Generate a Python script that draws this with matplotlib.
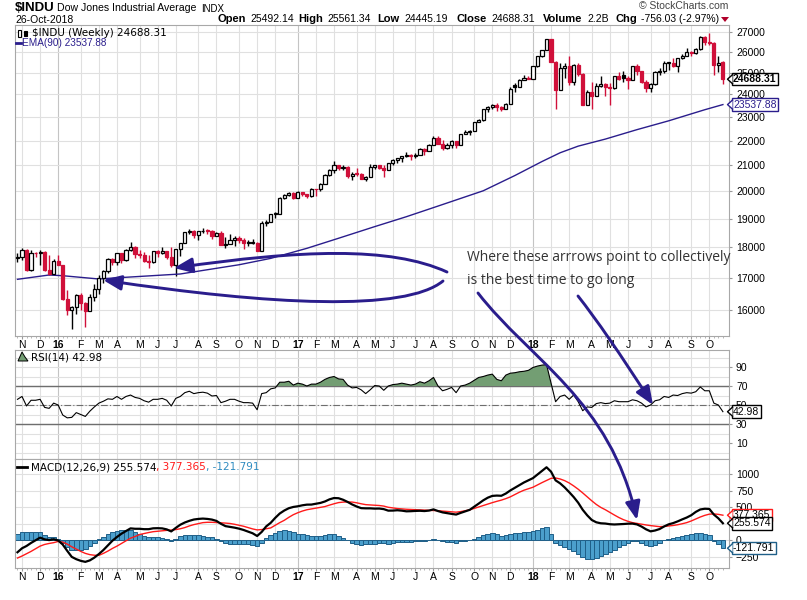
import numpy as np
import pandas as pd
import matplotlib
matplotlib.use("Agg")
import matplotlib.pyplot as plt
from matplotlib.patches import FancyArrowPatch, Rectangle, Polygon, ArrowStyle
from matplotlib.path import Path
from matplotlib.lines import Line2D
from matplotlib.ticker import NullLocator

plt.rcParams['font.family'] = ['Liberation Sans', 'DejaVu Sans']

# weekly candles, first bar = week ending 30-Oct-2015, last = 26-Oct-2018
opens = [17646, 17664, 17910, 17245, 17824, 17798, 17848, 17265, 17128, 17552,
         17405, 16347, 15988, 16094, 16466, 16205, 15974, 16392, 16640, 17007, 17213, 17602, 17516, 17793, 17577, 17897,
         18003, 17774, 17740, 17535, 17501, 17873, 17807, 17865, 17675, 17400, 17949, 18147, 18517, 18571, 18432, 18544,
         18577, 18553, 18395, 18492, 18085, 18124, 18262, 18308, 18240, 18138, 18146, 18161, 17888, 18848, 18868, 19153,
         19171, 19757, 19843, 19934,
         19763, 19964, 19886, 19827, 20094, 20071, 20269, 20624, 20822, 21006, 20903, 20915, 20597, 20663, 20656, 20453,
         20548, 20941, 21007, 20897, 20805, 21080, 21206, 21272, 21384, 21395, 21350, 21414, 21638, 21580, 21830, 22093,
         21858, 21675, 21814, 21988, 21798, 22268, 22350, 22405, 22773, 22871, 23329, 23434, 23539, 23422, 23358, 23558,
         24424, 24329, 24652, 24754,
         24719, 25296, 25803, 26072, 26617, 25521, 24191, 25219, 25310, 24538, 25336, 24946, 23533, 24103, 23933, 24360,
         24463, 24311, 24263, 24831, 24870, 24753, 24635, 25317, 25090, 24581, 24271, 24456, 25019, 25058, 25451, 25463,
         25313, 25669, 25790, 25965, 25917, 26154, 26744, 26458, 26447, 25340, 25492]
highs = [17799, 17977, 17930, 17914, 17850, 17895, 17860, 17750, 17620, 17750,
         17405, 16600, 16130, 16500, 16510, 16250, 16480, 16800, 17080, 17240, 17630, 17630, 17800, 17800, 17940, 18170,
         18040, 17900, 17850, 17750, 17890, 17900, 18000, 17870, 18010, 17960, 18150, 18540, 18620, 18600, 18550, 18670,
         18630, 18590, 18530, 18560, 18340, 18450, 18370, 18400, 18330, 18260, 18280, 18170, 18930, 18940, 19170, 19225,
         19770, 19900, 19990, 19980,
         19999, 19975, 19900, 20125, 20100, 20300, 20640, 20840, 21170, 21010, 21000, 20970, 20740, 20890, 20710, 20600,
         21070, 21010, 21010, 21010, 21110, 21230, 21300, 21390, 21530, 21450, 21490, 21680, 21680, 21840, 22180, 22170,
         22020, 21900, 22010, 21990, 22280, 22420, 22420, 22790, 22900, 23330, 23480, 23560, 23600, 23470, 23600, 24330,
         24535, 24690, 24880, 24840,
         25300, 25810, 26090, 26620, 26620, 25530, 25430, 25440, 25800, 25390, 25450, 25000, 24190, 24540, 24490, 24860,
         24500, 24500, 24860, 25010, 25090, 24840, 25330, 25400, 25090, 24630, 24500, 25070, 25200, 25540, 25520, 25690,
         25700, 25880, 26170, 26010, 26160, 26770, 26770, 26950, 26460, 25800, 25561]
lows = [17514, 17590, 17230, 17210, 17680, 17420, 17230, 17100, 17128, 17400,
        16314, 15840, 15450, 15880, 16000, 15503, 15974, 16260, 16500, 16820, 17160, 17420, 17400, 17480, 17550, 17890,
        17650, 17630, 17500, 17330, 17490, 17660, 17780, 17600, 17360, 17060, 17710, 18140, 18440, 18320, 18250, 18500,
        18460, 18300, 18390, 18080, 17990, 18100, 18030, 18140, 17960, 18060, 18100, 17880, 17880, 18740, 18860, 19020,
        19160, 19720, 19840, 19720,
        19750, 19830, 19730, 19780, 19830, 20000, 20260, 20600, 20700, 20800, 20800, 20500, 20410, 20580, 20450, 20380,
        20540, 20840, 20860, 20550, 20800, 21000, 21090, 21120, 21330, 21200, 21280, 21400, 21420, 21570, 21820, 21840,
        21600, 21640, 21700, 21710, 21800, 22260, 22230, 22400, 22760, 22830, 23230, 23330, 23250, 23240, 23350, 23550,
        24110, 24320, 24650, 24700,
        24700, 25240, 25740, 26060, 25500, 23360, 24190, 24760, 24400, 24400, 24860, 23510, 23510, 23340, 23900, 24350,
        23900, 23530, 24250, 24660, 24580, 24250, 24630, 24880, 24500, 24080, 24080, 24440, 24900, 24960, 25140, 25280,
        25030, 25650, 25780, 25780, 25900, 26060, 26350, 26350, 24900, 25040, 24445]
closes = [17664, 17910, 17245, 17824, 17798, 17848, 17265, 17128, 17552, 17425,
          16347, 15988, 16094, 16466, 16205, 15974, 16392, 16640, 17007, 17213, 17602, 17516, 17793, 17577, 17897, 18003,
          17774, 17740, 17535, 17501, 17873, 17807, 17865, 17675, 17400, 17949, 18147, 18517, 18571, 18432, 18544, 18577,
          18553, 18395, 18492, 18085, 18124, 18262, 18308, 18240, 18138, 18146, 18161, 17888, 18848, 18868, 19153, 19171,
          19757, 19843, 19934, 19763,
          19964, 19886, 19827, 20094, 20071, 20269, 20624, 20822, 21006, 20903, 20915, 20597, 20663, 20656, 20453, 20548,
          20941, 21007, 20897, 20805, 21080, 21206, 21272, 21384, 21395, 21350, 21414, 21638, 21580, 21830, 22093, 21858,
          21675, 21814, 21988, 21798, 22268, 22350, 22405, 22773, 22871, 23329, 23434, 23539, 23422, 23358, 23558, 24231,
          24329, 24652, 24754, 24719,
          25296, 25803, 26072, 26617, 25521, 24191, 25219, 25310, 24538, 25336, 24946, 23533, 24103, 23933, 24360, 24463,
          24311, 24263, 24831, 24715, 24753, 24635, 25317, 25090, 24581, 24271, 24456, 25019, 25058, 25451, 25463, 25313,
          25669, 25790, 25965, 25917, 26154, 26744, 26458, 26447, 25340, 25444, 24688]

# EMA(90) read at a few bars (bar index, value)
ema_idx = [0, 7, 10, 18, 20, 36, 49, 56, 64, 71, 79, 86, 93, 103, 110, 116, 120, 124, 130, 137, 144, 152, 156]
ema_val = [16950, 17088, 17065, 16960, 16980, 17120, 17420, 17630, 17966, 18309, 18714, 19066, 19451, 20018,
           20600, 21150, 21500, 21770, 22060, 22455, 22830, 23312, 23538]

rsi = [56, 59, 49, 55, 55, 56, 47.5, 46.5, 52, 50,
       39.5, 36.5, 37, 42, 40, 38, 43.5, 48, 52, 54,
       56.5, 56, 59, 56, 59, 60.5, 58, 57, 54.5, 53,
       56, 56, 57, 55, 49, 57, 59, 63, 64.5, 62,
       63, 63.5, 62.5, 59.5, 60, 52.5, 54, 56, 56, 54,
       52.5, 52.5, 52, 45, 62, 63, 67, 68, 74, 74,
       75, 71, 73, 72, 70, 72, 72, 74, 77, 79,
       80, 77.5, 77, 71, 68, 68.5, 66, 62, 66, 70.5,
       70, 65.5, 70, 71.5, 72, 73, 72, 71, 72, 74.5,
       73, 75.5, 79, 70, 65, 66.5, 68.5, 63, 70, 71,
       73, 76, 79, 80, 81.5, 82.5, 77, 75.5, 81.5, 83.5,
       84, 85, 85.5, 86.5, 89.5, 91, 92, 92.5, 73, 53.5,
       59, 60.5, 56, 60.5, 53.5, 44, 48, 47.5, 51.5, 52.5,
       51.5, 52, 54.5, 53.5, 53.5, 53.5, 55.5, 54.5, 52, 48,
       50, 54.5, 55.5, 59, 58, 60.5, 60, 62, 63, 62.5,
       64, 69, 65, 65, 52, 50, 42.98]

# MACD signal line and histogram, read weekly
signal = [-270, -240, -205, -170, -130, -90, -65, -50, -38, -20,
          -30, -60, -100, -135, -170, -200, -219, -228, -230, -200,
          -165, -125, -90, -50, -10, 30, 55, 85, 100, 115,
          128, 135, 142, 148, 152, 160, 172, 190, 215, 235,
          250, 265, 270, 270, 266, 262, 258, 252, 240, 225,
          210, 190, 170, 155, 160, 172, 185, 225, 265, 300,
          345, 385, 415, 440, 460, 472, 485, 497, 508, 530,
          550, 568, 575, 578, 576, 565, 550, 537, 532, 528,
          524, 515, 497, 488, 478, 472, 467, 464, 462, 459,
          455, 452, 450, 445, 440, 434, 428, 423, 432, 445,
          458, 480, 502, 525, 545, 567, 587, 605, 628, 655,
          690, 725, 755, 777, 800, 835, 870, 903, 935, 940,
          925, 900, 865, 820, 770, 714, 655, 595, 540, 495,
          460, 420, 380, 342, 310, 285, 265, 253, 242, 230,
          220, 212, 204, 207, 214, 222, 233, 248, 265, 290,
          320, 350, 375, 393, 397, 390, 377.365]
hist = [87, 117, 117, 128, 128, 128, 77, 51, 51, 15,
        -36, -102, -153, -153, -143, -128, -87, -36, 20, 51,
        87, 117, 138, 148, 148, 148, 117, 87, 66, 51,
        51, 46, 36, 15, -20, 25, 61, 77, 77, 77,
        71, 61, 51, 41, 25, -15, -46, -51, -51, -51,
        -56, -61, -66, -92, -36, 36, 77, 112, 138, 148,
        138, 117, 97, 87, 77, 66, 66, 66, 77, 87,
        87, 66, 36, 0, -36, -56, -66, -56, -51, -51,
        -46, -46, -51, -41, -26, -26, -31, -26, -20, -15,
        -15, -5, 15, -5, -20, -26, -31, -36, -20, -10,
        0, 25, 51, 77, 97, 102, 87, 66, 77, 97,
        102, 107, 117, 128, 138, 158, 179, 199, 100, -36,
        -66, -102, -138, -168, -204, -255, -280, -290, -270, -240,
        -209, -179, -143, -102, -66, -36, -15, -15, -36, -66,
        -87, -66, -36, 0, 25, 36, 51, 66, 77, 87,
        107, 114, 100, 79, -10, -60, -121.791]

price_ticks = [16000, 17000, 18000, 19000, 20000, 21000, 22000, 23000, 24000, 25000, 26000, 27000]
rsi_ticks = [10, 30, 50, 70, 90]
macd_ticks = [-250, 0, 250, 500, 750, 1000]

W, H = 807, 600
NAVY = '#2a1d8c'
RED = '#d0103a'
GRID = '#e0e0e0'
HIST = '#4b9fcc'
HIST_EDGE = '#1f5f88'

o = np.array(opens, float)
h = np.array(highs, float)
l = np.array(lows, float)
c = np.array(closes, float)
n = len(c)
idx = np.arange(n)
dates = pd.date_range('2015-10-30', periods=n, freq='W-FRI')
month_starts = [i for i in range(1, n) if dates[i].month != dates[i - 1].month]
month_labels = [str(dates[i].year)[2:] if dates[i].month == 1 else 'JFMAMJJASOND'[dates[i].month - 1]
                for i in month_starts]

fig = plt.figure(figsize=(W / 100, H / 100), dpi=100)
fig.patch.set_facecolor('white')


def panel(top, bottom):
    return fig.add_axes([15 / W, 1 - bottom / H, (729 - 15) / W, (bottom - top) / H])


def ftext(x, y, s, **kw):
    kw.setdefault('va', 'center')
    return fig.text(x / W, 1 - y / H, s, **kw)


ax_p = panel(25, 336)
ax_r = panel(350, 459)
ax_m = panel(459, 568)

for ax in (ax_p, ax_r, ax_m):
    ax.set_xlim(-0.55, 157.35)
    for i in month_starts:
        ax.axvline(i, color='#c4c4c4' if dates[i].month == 1 else GRID, lw=0.8, zorder=0)
    ax.set_xticks(month_starts)
    ax.set_xticks(idx, minor=True)
    ax.set_xticklabels(month_labels)
    for t in ax.get_xticklabels():
        if t.get_text().isdigit():
            t.set_fontweight('bold')
    ax.tick_params(axis='x', which='major', length=2, pad=1, labelsize=7.5, color='#999999')
    ax.tick_params(axis='x', which='minor', length=1.5, color='#aaaaaa')
    ax.yaxis.tick_right()
    ax.tick_params(axis='y', which='major', length=2, pad=3, labelsize=7.5, color='#999999')
    for s in ax.spines.values():
        s.set_color('#a8a8a8')
ax_r.tick_params(axis='x', which='both', labelbottom=False)

# ---- price panel ----
ax_p.set_yscale('log')
ax_p.set_ylim(15237, 27335)
ax_p.yaxis.set_minor_locator(NullLocator())
ax_p.set_yticks(price_ticks)
ax_p.set_yticklabels([str(v) for v in price_ticks])
for v in price_ticks:
    ax_p.axhline(v, color=GRID, lw=0.8, zorder=0)

prev = np.r_[o[0], c[:-1]]
edge = np.where(c >= prev, 'black', RED)
face = np.where(c > o, 'white', edge)
ax_p.vlines(idx, l, h, colors=edge, lw=1, zorder=2)
body_lo = np.minimum(o, c)
body_h = np.maximum(np.abs(c - o), body_lo * 0.0015)
ax_p.bar(idx, body_h, bottom=body_lo, width=0.7, color=face, edgecolor=edge, lw=0.9, zorder=3)
ax_p.plot(ema_idx, ema_val, color=NAVY, lw=1.0, zorder=2)

# ---- RSI panel ----
r = np.array(rsi)
ax_r.set_ylim(-6.8, 107.9)
ax_r.set_yticks(rsi_ticks)
for v in range(0, 101, 10):
    ax_r.axhline(v, color=GRID, lw=0.8, zorder=0)
ax_r.axhline(70, color='#6e6e6e', lw=1, zorder=1)
ax_r.axhline(30, color='#6e6e6e', lw=1, zorder=1)
ax_r.axhline(50, color='#6e6e6e', lw=0.8, dashes=(6, 2, 1, 2), zorder=1)
ax_r.fill_between(idx, r, 70, where=r > 70, interpolate=True, color='#739e73', lw=0, zorder=2)
ax_r.plot(idx, r, color='black', lw=0.8, zorder=3)

# ---- MACD panel ----
sg = np.array(signal)
hs = np.array(hist)
m = sg + hs
ax_m.set_ylim(-421, 1227)
ax_m.set_yticks(macd_ticks)
for v in range(-250, 1251, 250):
    ax_m.axhline(v, color=GRID, lw=0.8, zorder=0)
ax_m.bar(idx, hs, width=1.0, color=HIST, edgecolor=HIST_EDGE, lw=0.7, zorder=2)
ax_m.plot(idx, sg, color='#ff1a1a', lw=1.0, zorder=3)
ax_m.plot(idx, m, color='black', lw=1.6, zorder=4)

fig.canvas.draw()
renderer = fig.canvas.get_renderer()


def tag(ax, yval, text, ec, tc='black', weight='normal'):
    py = ax.transData.transform((0, yval))[1]
    ftext(733, H - py, text, fontsize=7.5, color=tc, fontweight=weight, zorder=10,
          bbox=dict(boxstyle='square,pad=0.12', fc='white', ec=ec, lw=1))
    fig.add_artist(Polygon([(727.5 / W, py / H), (732.5 / W, (py + 4.5) / H), (732.5 / W, (py - 4.5) / H)],
                           closed=True, fc='white', ec='none', transform=fig.transFigure, zorder=11))
    fig.add_artist(Line2D([732.5 / W, 727.5 / W, 732.5 / W], [(py + 4.5) / H, py / H, (py - 4.5) / H],
                          color=ec, lw=1, transform=fig.transFigure, zorder=12))


tag(ax_p, c[-1], '24688.31', 'black', weight='bold')
tag(ax_p, ema_val[-1], '23537.88', NAVY, tc=NAVY)
tag(ax_r, r[-1], '42.98', 'black')
tag(ax_m, sg[-1], '377.365', '#ff1a1a')
tag(ax_m, m[-1], '255.574', 'black')
tag(ax_m, hs[-1], '-121.791', HIST_EDGE)

# ---- header ----
ftext(15, 8, '$INDU', fontsize=9.5, fontweight='bold')
ftext(57, 8, 'Dow Jones Industrial Average', fontsize=7.6)
ftext(201, 8.5, 'INDX', fontsize=7)
ftext(639, 6, '\u00a9 StockCharts.com', fontsize=7.5, color='#444444')
ftext(15, 20, '26-Oct-2018', fontsize=7.5)
for x, s, bold in [(217, 'Open', True), (250, '25492.14', False), (298, 'High', True), (327, '25561.34', False),
                   (377, 'Low', True), (404, '24445.19', False), (456, 'Close', True), (491, '24688.31', False),
                   (543, 'Volume', True), (587, '2.2B', False), (616, 'Chg', True), (641, '-756.03 (-2.97%)', False)]:
    ftext(x, 19.5, s, fontsize=8 if bold else 7.5, fontweight='bold' if bold else 'normal')
fig.add_artist(Polygon([(721 / W, 1 - 17 / H), (729 / W, 1 - 17 / H), (725 / W, 1 - 22 / H)],
                       closed=True, fc='#b0002a', ec='none', transform=fig.transFigure))

# ---- panel legends ----
fig.add_artist(Rectangle((18 / W, 1 - 37 / H), 3 / W, 7 / H, fc='white', ec='black', lw=0.8,
                         transform=fig.transFigure))
fig.add_artist(Rectangle((24 / W, 1 - 36 / H), 3 / W, 5 / H, fc='black', ec='black', lw=0.8,
                         transform=fig.transFigure))
ftext(32, 33, '$INDU (Weekly) 24688.31', fontsize=7.5, family='DejaVu Sans')
fig.add_artist(Line2D([16 / W, 21 / W], [1 - 43 / H, 1 - 43 / H], color=NAVY, lw=2, transform=fig.transFigure))
ftext(22, 43, 'EMA(90) 23537.88', fontsize=7.2, color=NAVY)

fig.add_artist(Polygon([(18 / W, 1 - 361 / H), (22 / W, 1 - 352 / H), (25 / W, 1 - 357 / H), (28 / W, 1 - 361 / H)],
                       closed=True, fc='#739e73', ec='black', lw=0.7, transform=fig.transFigure))
ftext(31, 357, 'RSI(14) 42.98', fontsize=7.5, family='DejaVu Sans')

fig.add_artist(Line2D([17 / W, 27 / W], [1 - 467 / H, 1 - 467 / H], color='black', lw=2, transform=fig.transFigure))
x0 = 31
for s, col in [('MACD(12,26,9) 255.574', 'black'), (', 377.365', '#ff1a1a'), (', -121.791', '#2e8bc0')]:
    t = ftext(x0, 467, s, fontsize=7.5, family='DejaVu Sans', color=col)
    bb = t.get_window_extent(renderer=renderer)
    x0 += bb.width

# ---- annotation ----
ftext(467, 258, 'Where these arrrows point to collectively', fontsize=10, family='Open Sans', color='#333333',
      zorder=20)
ftext(467, 281, 'is the best time to go long', fontsize=10, family='Open Sans', color='#333333', zorder=20)


def arrow(points, codes):
    verts = [(x / W, 1 - y / H) for x, y in points]
    p = FancyArrowPatch(path=Path(verts, codes), arrowstyle=ArrowStyle('-|>', head_length=1.1, head_width=0.45),
                        mutation_scale=10, color=NAVY, lw=2.1, transform=fig.transFigure, zorder=15)
    fig.add_artist(p)


C4 = [Path.MOVETO, Path.CURVE4, Path.CURVE4, Path.CURVE4]
C3 = [Path.MOVETO, Path.CURVE3, Path.CURVE3]
arrow([(447, 272), (390, 246), (300, 250), (174, 268)], C4)
arrow([(443, 281), (405, 312), (270, 305), (103, 280)], C4)
arrow([(478, 293), (530, 360), (610, 400), (637, 520)], C4)
arrow([(578, 296), (605, 330), (653, 405)], C3)

fig.savefig('out.png', dpi=100)
